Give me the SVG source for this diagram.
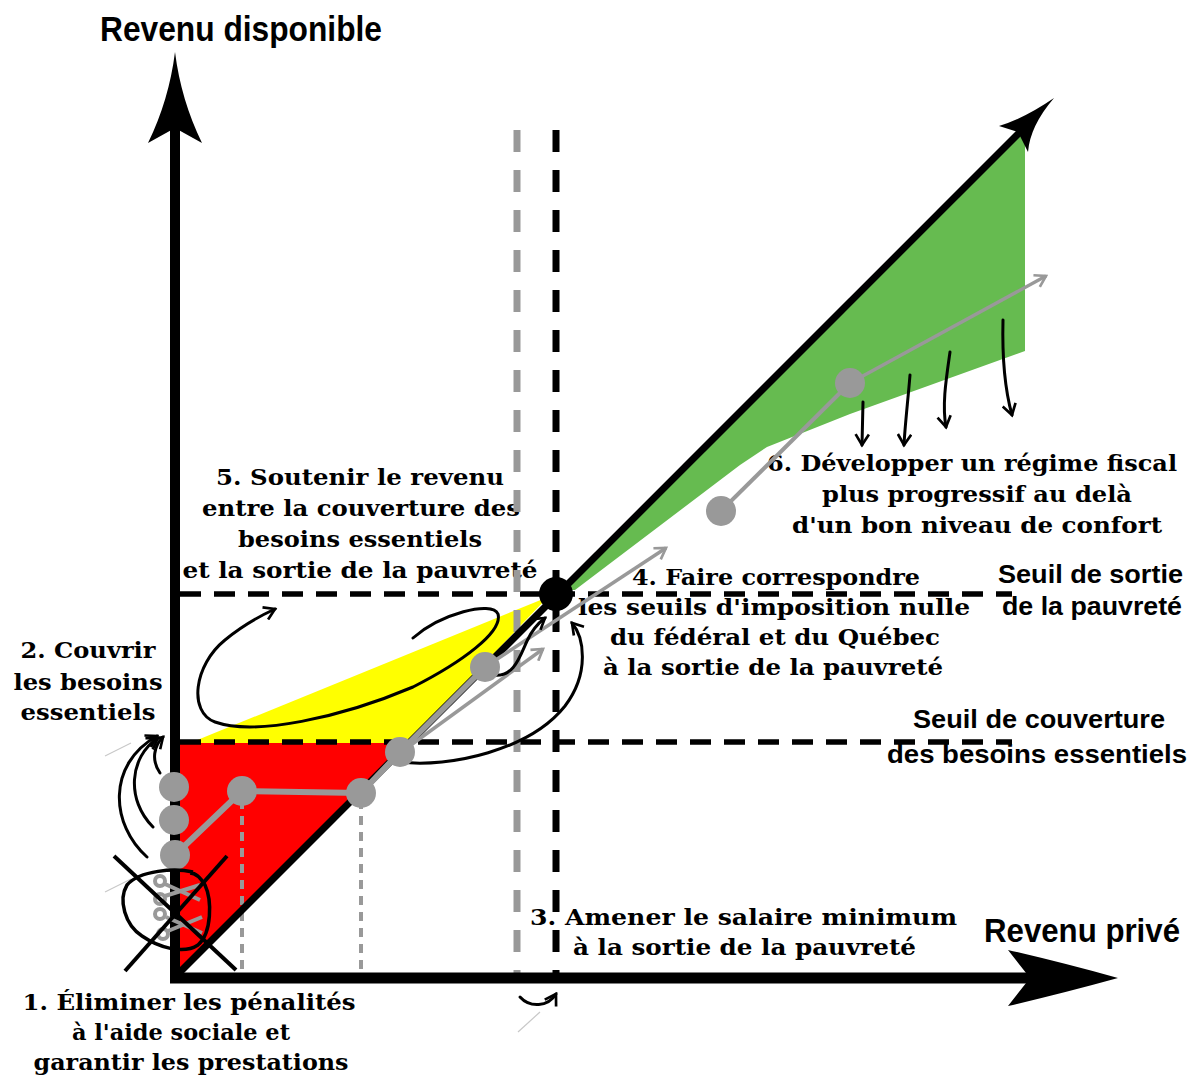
<svg xmlns="http://www.w3.org/2000/svg" width="1201" height="1088" viewBox="0 0 1201 1088">
<style>
.hand{font-family:"DejaVu Serif","Liberation Serif",serif;font-weight:bold;font-size:22px;fill:#000}
.mid{text-anchor:middle}
.lab{font-family:"Liberation Sans",Arial,sans-serif;font-weight:bold;fill:#000}
.curve{fill:none;stroke:#000;stroke-width:3;stroke-linecap:round;marker-end:url(#ah)}
.thin{fill:none;stroke:#999;stroke-width:3.5;marker-end:url(#gh)}
.dot{fill:#999}
.faint{stroke:#c8c8c8;stroke-width:1.2}
</style>
<defs>
<marker id="ah" viewBox="0 0 12 12" refX="10" refY="6" markerWidth="16" markerHeight="16" markerUnits="userSpaceOnUse" orient="auto">
<path d="M2,1 L10,6 L2,11" fill="none" stroke="#000" stroke-width="2"/>
</marker>
<marker id="gh" viewBox="0 0 12 12" refX="10" refY="6" markerWidth="16" markerHeight="16" markerUnits="userSpaceOnUse" orient="auto">
<path d="M2,1 L10,6 L2,11" fill="none" stroke="#999" stroke-width="2"/>
</marker>
</defs>
<rect width="1201" height="1088" fill="#fff"/>

<g id="zones">
<polygon points="180,743 408,743 180,972" fill="#ff0000"/>
<polygon points="190,743 548,597 408,743" fill="#ffff00"/>
<polygon points="560,590 1025,125 1025,351 850,414 767,447 740,465 575,590" fill="#66bb50"/>
</g>

<g id="texts">
<g id="label-5">
<text class="hand mid" x="360" y="485" textLength="288" lengthAdjust="spacingAndGlyphs">5. Soutenir le revenu</text>
<text class="hand mid" x="361" y="516" textLength="318" lengthAdjust="spacingAndGlyphs">entre la couverture des</text>
<text class="hand mid" x="360" y="547" textLength="244" lengthAdjust="spacingAndGlyphs">besoins essentiels</text>
<text class="hand mid" x="360" y="578" textLength="355" lengthAdjust="spacingAndGlyphs">et la sortie de la pauvreté</text>
</g>
<g id="label-2">
<text class="hand mid" x="88" y="658" textLength="135" lengthAdjust="spacingAndGlyphs">2. Couvrir</text>
<text class="hand mid" x="88" y="690" textLength="149" lengthAdjust="spacingAndGlyphs">les besoins</text>
<text class="hand mid" x="88" y="720" textLength="135" lengthAdjust="spacingAndGlyphs">essentiels</text>
</g>
<g id="label-1">
<text class="hand mid" x="189" y="1010" textLength="333" lengthAdjust="spacingAndGlyphs">1. Éliminer les pénalités</text>
<text class="hand mid" x="181" y="1040" textLength="218" lengthAdjust="spacingAndGlyphs">à l'aide sociale et</text>
<text class="hand mid" x="191" y="1070" textLength="315" lengthAdjust="spacingAndGlyphs">garantir les prestations</text>
</g>
<g id="label-3">
<text class="hand" x="530" y="925" textLength="427" lengthAdjust="spacingAndGlyphs">3. Amener le salaire minimum</text>
<text class="hand" x="573" y="955" textLength="343" lengthAdjust="spacingAndGlyphs">à la sortie de la pauvreté</text>
</g>
<g id="label-4">
<text class="hand mid" x="776" y="585" textLength="288" lengthAdjust="spacingAndGlyphs">4. Faire correspondre</text>
<text class="hand mid" x="774" y="615" textLength="392" lengthAdjust="spacingAndGlyphs">les seuils d'imposition nulle</text>
<text class="hand mid" x="775" y="645" textLength="330" lengthAdjust="spacingAndGlyphs">du fédéral et du Québec</text>
<text class="hand mid" x="773" y="675" textLength="340" lengthAdjust="spacingAndGlyphs">à la sortie de la pauvreté</text>
</g>
<g id="label-6">
<text class="hand mid" x="972" y="471" textLength="410" lengthAdjust="spacingAndGlyphs">6. Développer un régime fiscal</text>
<text class="hand mid" x="977" y="502" textLength="310" lengthAdjust="spacingAndGlyphs">plus progressif au delà</text>
<text class="hand mid" x="977" y="533" textLength="370" lengthAdjust="spacingAndGlyphs">d'un bon niveau de confort</text>
</g>
<g id="axis-y-label"><text class="lab" x="100" y="41" font-size="35" textLength="282" lengthAdjust="spacingAndGlyphs">Revenu disponible</text></g>
<g id="axis-x-label"><text class="lab" x="984" y="942" font-size="34" textLength="196" lengthAdjust="spacingAndGlyphs">Revenu privé</text></g>
<g id="seuil-sortie">
<text class="lab" x="998" y="583" font-size="26" textLength="185" lengthAdjust="spacingAndGlyphs">Seuil de sortie</text>
<text class="lab" x="1002" y="615" font-size="26" textLength="180" lengthAdjust="spacingAndGlyphs">de la pauvreté</text>
</g>
<g id="seuil-couverture">
<text class="lab" x="913" y="728" font-size="26" textLength="252" lengthAdjust="spacingAndGlyphs">Seuil de couverture</text>
<text class="lab" x="887" y="763" font-size="26" textLength="300" lengthAdjust="spacingAndGlyphs">des besoins essentiels</text>
</g>
</g>

<g id="guides">
<line x1="180" y1="594" x2="1012" y2="594" stroke="#000" stroke-width="5.5" stroke-dasharray="21,13"/>
<line x1="180" y1="742" x2="1012" y2="742" stroke="#000" stroke-width="5.5" stroke-dasharray="21,13"/>
<line x1="517" y1="130" x2="517" y2="975" stroke="#999" stroke-width="7" stroke-dasharray="22,18"/>
<line x1="556" y1="130" x2="556" y2="975" stroke="#000" stroke-width="7" stroke-dasharray="22,18"/>
<line x1="242" y1="800" x2="242" y2="972" stroke="#999" stroke-width="4" stroke-dasharray="9,7"/>
<line x1="361" y1="800" x2="361" y2="972" stroke="#999" stroke-width="4" stroke-dasharray="9,7"/>
</g>

<g id="axes">
<line x1="175" y1="983" x2="175" y2="120" stroke="#000" stroke-width="10"/>
<path d="M175,52 Q181,100 202,143 L175,128 L148,143 Q169,100 175,52 Z" fill="#000"/>
<line x1="170" y1="978" x2="1030" y2="978" stroke="#000" stroke-width="11"/>
<path d="M1118,978 Q1060,962 1008,950 L1030,978 L1008,1006 Q1060,994 1118,978 Z" fill="#000"/>
<line x1="178" y1="974" x2="1025" y2="127" stroke="#000" stroke-width="7"/>
<path d="M1054,98 Q1030,126 1028,152 L1018,132 L999,126 Q1025,118 1054,98 Z" fill="#000"/>
</g>

<g id="grey-path">
<polyline points="175,855 242,791 361,793 400,752 485,667" fill="none" stroke="#999" stroke-width="6" stroke-linejoin="round"/>
<line x1="721" y1="511" x2="850" y2="383" stroke="#999" stroke-width="4"/>
</g>

<g id="connectors">
<line class="thin" x1="400" y1="753" x2="543" y2="649"/>
<line class="thin" x1="485" y1="667" x2="666" y2="548"/>
<line class="thin" x1="850" y1="383" x2="1046" y2="276"/>
<path class="curve" d="M413,638 C440,614 492,600 498,614 C503,632 462,662 413,687 C340,718 255,736 215,722 C188,712 194,665 225,640 C243,625 262,615 275,609"/>
<path class="curve" d="M400,762 C450,768 530,750 565,706 C590,673 584,637 572,623"/>
<path class="curve" d="M493,675 C514,678 520,656 527,641 C532,630 537,624 545,618"/>
<path class="curve" d="M147,857 C111,825 106,765 157,736"/>
<path class="curve" d="M153,827 C126,800 129,757 158,738"/>
<path class="curve" d="M160,773 C151,760 154,746 163,737"/>
<path class="curve" d="M520,997 C530,1008 548,1007 556,994"/>
<path class="curve" d="M863,402 L862,445"/>
<path class="curve" d="M910,375 C908,400 905,425 904,445"/>
<path class="curve" d="M950,352 C946,380 942,405 946,427"/>
<path class="curve" d="M1003,320 C1002,360 1005,390 1012,415"/>
<line class="faint" x1="105" y1="756" x2="131" y2="743"/>
<line class="faint" x1="105" y1="892" x2="131" y2="879"/>
<line class="faint" x1="518" y1="1032" x2="540" y2="1012"/>
</g>

<g id="dots">
<circle class="dot" cx="174" cy="787" r="15"/>
<circle class="dot" cx="174" cy="820" r="15"/>
<circle class="dot" cx="175" cy="855" r="15"/>
<circle class="dot" cx="242" cy="791" r="15"/>
<circle class="dot" cx="361" cy="793" r="15"/>
<circle class="dot" cx="400" cy="752" r="15"/>
<circle class="dot" cx="485" cy="667" r="15"/>
<circle class="dot" cx="721" cy="511" r="15"/>
<circle class="dot" cx="850" cy="383" r="15"/>
<circle cx="556" cy="594" r="17" fill="#000"/>
</g>

<g id="crossed-out">
<g fill="none" stroke="#999" stroke-width="4">
<circle cx="160" cy="881" r="5"/>
<circle cx="160" cy="899" r="5"/>
<line x1="165" y1="884" x2="200" y2="900"/>
<line x1="165" y1="896" x2="200" y2="885"/>
<circle cx="160" cy="914" r="5"/>
<circle cx="163" cy="934" r="5"/>
<line x1="166" y1="917" x2="202" y2="933"/>
<line x1="168" y1="931" x2="202" y2="917"/>
</g>
<path d="M193,872 C175,868 140,870 127,885 C118,900 125,925 142,936 C158,947 183,955 198,945 C212,933 212,900 205,885 C200,877 196,873 190,873" fill="none" stroke="#000" stroke-width="3.5"/>
<line x1="114" y1="856" x2="236" y2="970" stroke="#000" stroke-width="4"/>
<line x1="125" y1="971" x2="227" y2="856" stroke="#000" stroke-width="4"/>
</g>
</svg>
